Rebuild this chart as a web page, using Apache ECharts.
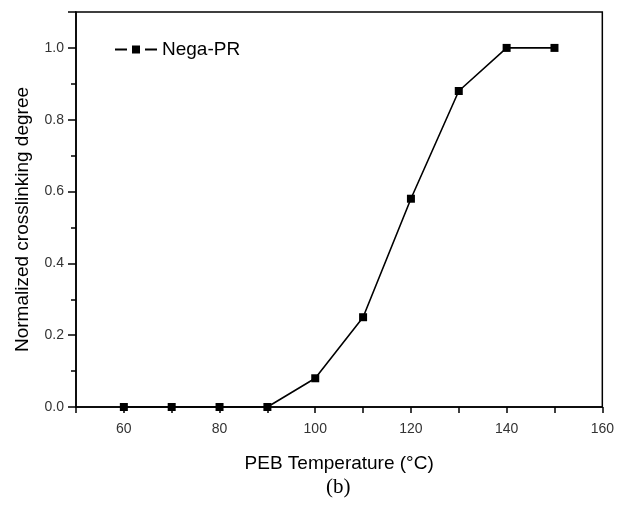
<!DOCTYPE html>
<html>
<head>
<meta charset="utf-8">
<script src="https://cdn.jsdelivr.net/npm/echarts@6/dist/echarts.min.js"></script>
<style>
  html, body { margin: 0; padding: 0; background: #fff; }
  #chart { width: 617px; height: 508px; }
</style>
</head>
<body>
<div id="chart"></div>
<script>
// PEB temperature (°C) and normalized crosslinking degree of the negative resist
const temperatures = [60, 70, 80, 90, 100, 110, 120, 130, 140, 150];
const crosslinking = [0, 0, 0, 0, 0.08, 0.25, 0.58, 0.88, 1.0, 1.0];
const seriesName = 'Nega-PR';

const chart = echarts.init(document.getElementById('chart'));
const font = '"Liberation Sans", Arial, sans-serif';

// legend key: short line, square marker, short line (with gaps between)
const legendIcon = 'path://M0,3.1L12,3.1L12,4.9L0,4.9Z M17,0L25,0L25,8L17,8Z M30,3.1L42,3.1L42,4.9L30,4.9Z';

chart.setOption({
  animation: false,
  backgroundColor: '#fff',
  grid: { left: 76, right: 14, top: 12, bottom: 101, show: true, borderColor: '#000', borderWidth: 1.5 },
  legend: {
    left: 110, top: 35,
    itemWidth: 42, itemHeight: 8,
    itemGap: 4,
    textStyle: { fontFamily: font, fontSize: 19, color: '#000' },
    data: [{ name: seriesName, icon: legendIcon }]
  },
  xAxis: {
    type: 'value', min: 50, max: 160, interval: 10,
    name: 'PEB Temperature (°C)',
    nameLocation: 'middle', nameGap: 47,
    nameTextStyle: { fontFamily: font, fontSize: 19, color: '#000' },
    axisLine: { lineStyle: { color: '#000', width: 1.5 } },
    axisTick: { inside: false, length: 6, lineStyle: { color: '#000', width: 1.5 } },
    axisLabel: { fontFamily: font, fontSize: 14, color: '#333', margin: 15,
      formatter: v => (v % 20 === 0 ? String(v) : '') },
    splitLine: { show: false }
  },
  yAxis: {
    type: 'value', min: 0, max: 1.1, interval: 0.2,
    name: 'Normalized crosslinking degree',
    nameLocation: 'middle', nameGap: 44,
    nameTextStyle: { fontFamily: font, fontSize: 19, color: '#000', padding: [0, 20, 0, 0] },
    axisLine: { lineStyle: { color: '#000', width: 1.5 } },
    axisTick: { inside: false, length: 8, lineStyle: { color: '#000', width: 1.5 } },
    minorTick: { show: true, splitNumber: 2, length: 5, lineStyle: { color: '#000', width: 1.5 } },
    axisLabel: { fontFamily: font, fontSize: 14, color: '#333', margin: 12,
      formatter: v => (v > 1.05 ? '' : v.toFixed(1)) },
    splitLine: { show: false }
  },
  graphic: [{
    type: 'text', left: 326, top: 477,
    style: { text: '(b)', fontFamily: '"Liberation Serif", "Times New Roman", serif', fontSize: 21, fill: '#000' }
  }],
  series: [{
    name: seriesName,
    type: 'line',
    data: temperatures.map((t, i) => [t, crosslinking[i]]),
    symbol: 'rect', symbolSize: 8,
    lineStyle: { color: '#000', width: 1.6 },
    itemStyle: { color: '#000' }
  }]
});
</script>
</body>
</html>
